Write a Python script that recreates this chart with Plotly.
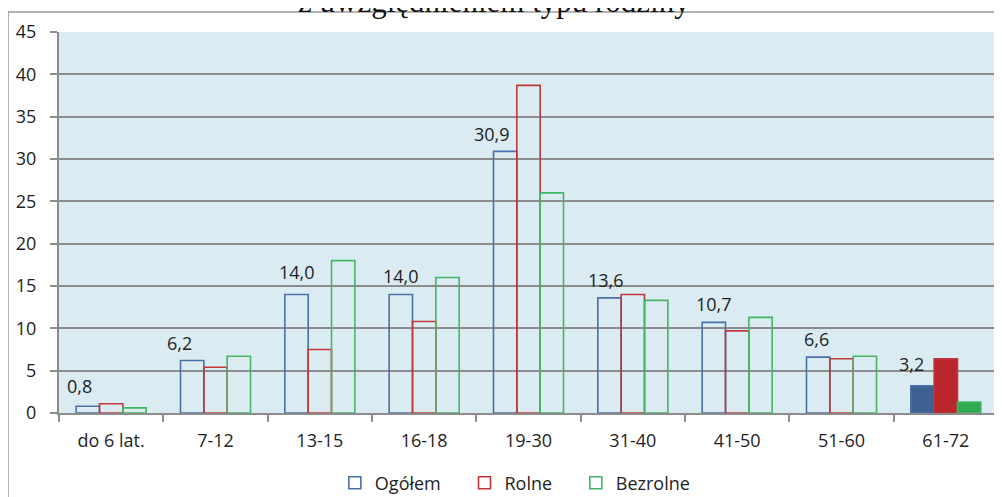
import plotly.graph_objects as go

categories = ["do 6 lat.", "7-12", "13-15", "16-18", "19-30", "31-40", "41-50", "51-60", "61-72"]
ogolem = [0.8, 6.2, 14.0, 14.0, 30.9, 13.6, 10.7, 6.6, 3.2]
rolne = [1.1, 5.4, 7.5, 10.8, 38.7, 14.0, 9.7, 6.4, 6.4]
bezrolne = [0.6, 6.7, 18.0, 16.0, 26.0, 13.3, 11.3, 6.7, 1.3]
series_names = ["Ogółem", "Rolne", "Bezrolne"]
label_texts = ["0,8", "6,2", "14,0", "14,0", "30,9", "13,6", "10,7", "6,6", "3,2"]
y_ticks = [0, 5, 10, 15, 20, 25, 30, 35, 40, 45]
title_text = "z uwzględnieniem typu rodziny"

# styling (page has an 8px body margin, so figure is 994x489)
line_colors = ["#4a70a8", "#c0363a", "#45b565"]
fill_colors = ["#3d6192", "#b8252a", "#2eaa50"]
label_xshift = [-8, -13, 0, 0, -13, -4, 0, -2, -11]
label_yshift = [6, 4, 8, 4, 3, 4, 4, 4, 8]
legend_pad = ["\u00a0" * 4, "\u00a0" * 4, ""]
FONT = "Open Sans"
TXT = "#1e1e1e"
FS = 18

fig = go.Figure()
for name, pad, vals, lc, fc in zip(series_names, legend_pad, [ogolem, rolne, bezrolne], line_colors, fill_colors):
    colors = ["rgba(0,0,0,0)"] * (len(categories) - 1) + [fc]
    fig.add_trace(go.Bar(
        x=categories, y=vals, name=name + pad,
        marker=dict(color=colors, line=dict(color=lc, width=1.6)),
        hovertemplate=name + ": %{y}<extra></extra>",
    ))

for cat, v, t, dx, dy in zip(categories, ogolem, label_texts, label_xshift, label_yshift):
    fig.add_annotation(x=cat, y=v, text=t, showarrow=False, xref="x", yref="y",
                       yanchor="bottom", xshift=dx - 23.3, yshift=dy,
                       font=dict(family=FONT, size=FS, color=TXT))

# cut-off title at top
fig.add_annotation(xref="paper", yref="paper", x=0.4633, y=1, yanchor="middle",
                   yshift=31, text=title_text, showarrow=False,
                   font=dict(family="Liberation Serif", size=31, color="#111111"))

# outer chart border
fig.add_shape(type="rect", xref="paper", yref="paper",
              x0=-0.0543, x1=1.01, y0=-0.25, y1=1.0525,
              line=dict(color="#9a9a9a", width=1.5), fillcolor="rgba(0,0,0,0)", layer="below")

fig.update_layout(
    width=994, height=489,
    margin=dict(l=51, r=4, t=24, b=84, autoexpand=False),
    paper_bgcolor="white",
    plot_bgcolor="#daecf2",
    barmode="group",
    bargap=0.329,
    bargroupgap=0,
    showlegend=True,
    legend=dict(orientation="h", x=0.486, xanchor="center", y=-0.184, yanchor="middle",
                font=dict(family=FONT, size=FS, color=TXT), itemwidth=30,
                traceorder="normal", bgcolor="rgba(0,0,0,0)"),
    font=dict(family=FONT, size=FS, color=TXT),
)
fig.update_xaxes(
    type="category", tickson="boundaries", ticks="outside", ticklen=7,
    tickcolor="#8c8c8c", tickwidth=1.5, automargin=False, ticklabelstandoff=10,
    showline=True, linecolor="#8c8c8c", linewidth=2,
    showgrid=False, tickfont=dict(family=FONT, size=FS, color=TXT),
    range=[-0.5, len(categories) - 0.5],
)
fig.update_yaxes(
    range=[0, 45], tickvals=y_ticks, ticktext=[str(v) for v in y_ticks],
    ticks="outside", ticklen=7, tickcolor="#8c8c8c", tickwidth=1.5,
    automargin=False, ticklabelstandoff=10,
    showline=True, linecolor="#8c8c8c", linewidth=2,
    showgrid=True, gridcolor="#8c8c8c", gridwidth=1.5,
    zeroline=False, tickfont=dict(family=FONT, size=FS, color=TXT),
)

fig.write_html("out.html")
